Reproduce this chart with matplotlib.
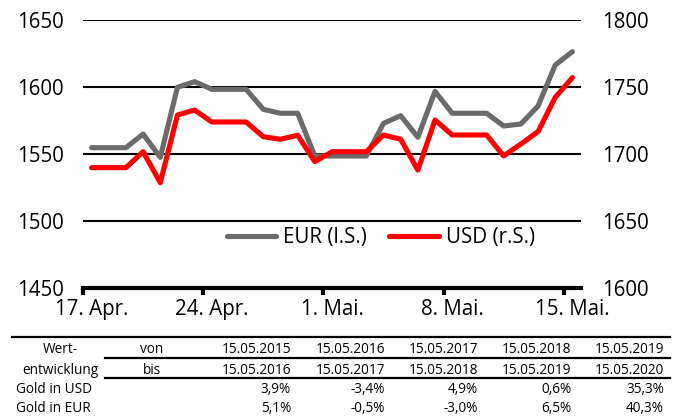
import matplotlib.pyplot as plt
import numpy as np
from matplotlib.lines import Line2D

plt.rcParams['font.family'] = ['Open Sans', 'DejaVu Sans']

# daily gold prices, 17 Apr .. 15 May 2020
eur_price = [1554.7, 1554.7, 1554.7, 1564.9, 1547.5, 1599.8, 1604.0, 1598.3, 1598.3, 1598.3,
             1583.3, 1580.4, 1580.4, 1548.5, 1548.5, 1548.5, 1548.5, 1572.9, 1578.6, 1562.5,
             1596.7, 1580.4, 1580.4, 1580.4, 1570.9, 1572.4, 1585.8, 1616.4, 1626.4]
usd_price = [1689.8, 1689.8, 1689.8, 1701.7, 1678.6, 1729.1, 1732.8, 1723.9, 1723.9, 1723.9,
             1712.9, 1711.0, 1714.0, 1694.3, 1701.7, 1701.7, 1701.7, 1714.2, 1711.0, 1688.0,
             1725.4, 1714.2, 1714.2, 1714.2, 1698.5, 1707.5, 1716.7, 1742.3, 1757.0]
tick_days = [0, 7, 14, 21, 28]
tick_labels = ['17. Apr.', '24. Apr.', '1. Mai.', '8. Mai.', '15. Mai.']

# performance table
period_from = ['15.05.2015', '15.05.2016', '15.05.2017', '15.05.2018', '15.05.2019']
period_to = ['15.05.2016', '15.05.2017', '15.05.2018', '15.05.2019', '15.05.2020']
gold_usd = ['3,9%', '-3,4%', '4,9%', '0,6%', '35,3%']
gold_eur = ['5,1%', '-0,5%', '-3,0%', '6,5%', '40,3%']

W, H = 682, 416
fig = plt.figure(figsize=(W / 100, H / 100), dpi=100)
ax = fig.add_axes([83 / W, 1 - 288 / H, (581 - 83) / W, (288 - 20) / H])
ax2 = ax.twinx()

x = np.arange(len(eur_price)) + 0.5
l1, = ax.plot(x, eur_price, color='#6b6b6b', lw=3.7, solid_joinstyle='round',
              solid_capstyle='round', label='EUR (l.S.)', zorder=3)
l2, = ax2.plot(x, usd_price, color='#ff0000', lw=3.7, solid_joinstyle='round',
               solid_capstyle='round', label='USD (r.S.)', zorder=3)

ax.set_xlim(0, 29)
ax.set_ylim(1450, 1650)
ax2.set_ylim(1600, 1800)
ax.set_yticks(np.arange(1450, 1651, 50))
ax2.set_yticks(np.arange(1600, 1801, 50))
ax.grid(axis='y', color='black', lw=1.5)
ax.set_axisbelow(True)

for a in (ax, ax2):
    for s in ('top', 'left', 'right'):
        a.spines[s].set_visible(False)
    a.spines['bottom'].set_linewidth(3)
ax2.spines['bottom'].set_visible(False)

ax.tick_params(axis='y', length=0, pad=14, labelsize=14.8)
ax2.tick_params(axis='y', length=0, pad=15, labelsize=14.8)

ax.set_xticks(tick_days)
ax.set_xticklabels([])
ax.tick_params(axis='x', which='major', length=5, width=3, direction='out')
ax.set_xticks([d + 0.5 for d in tick_days], minor=True)
ax.set_xticklabels(tick_labels, minor=True)
ax.tick_params(axis='x', which='minor', length=0, pad=8, labelsize=14.8)

leg = ax2.legend(handles=[l1, l2], loc='center', bbox_to_anchor=(0.598, 0.187),
                 ncol=2, frameon=False, fontsize=14.8, handlelength=2.4,
                 handletextpad=0.35, columnspacing=1.1)

# table below the chart
def fy(py):
    return 1 - py / H

def hline(x0, x1, py, lw=1.6):
    fig.add_artist(Line2D([x0 / W, x1 / W], [fy(py), fy(py)], color='black', lw=lw))

hline(12, 670, 337)
hline(105, 670, 358)
hline(105, 670, 378)

fs = 9.8
rows_y = [353.3, 374.3, 393.3, 412.3]
fig.text(60 / W, fy(rows_y[0]), 'Wert-', ha='center', va='baseline', fontsize=fs)
fig.text(60 / W, fy(rows_y[1]), 'entwicklung', ha='center', va='baseline', fontsize=fs)
fig.text(152 / W, fy(rows_y[0]), 'von', ha='center', va='baseline', fontsize=fs)
fig.text(152 / W, fy(rows_y[1]), 'bis', ha='center', va='baseline', fontsize=fs)
fig.text(16 / W, fy(rows_y[2]), 'Gold in USD', ha='left', va='baseline', fontsize=fs)
fig.text(16 / W, fy(rows_y[3]), 'Gold in EUR', ha='left', va='baseline', fontsize=fs)

col_right = [291, 385, 478, 571, 664]
for row, vals in zip(rows_y, [period_from, period_to, gold_usd, gold_eur]):
    for cx, v in zip(col_right, vals):
        fig.text(cx / W, fy(row), v, ha='right', va='baseline', fontsize=fs)

fig.savefig('out.png', dpi=100)
